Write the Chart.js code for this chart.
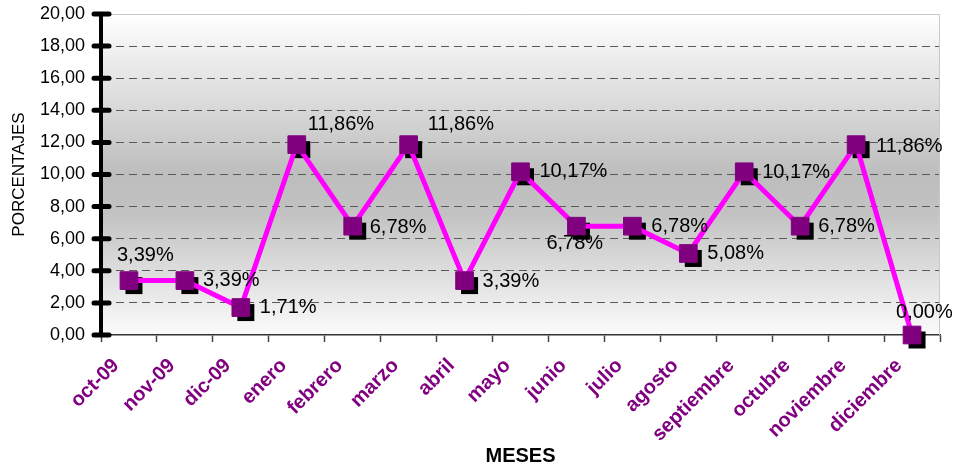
<!DOCTYPE html>
<html>
<head>
<meta charset="utf-8">
<script src="https://cdn.jsdelivr.net/npm/chart.js@4.4.0/dist/chart.umd.min.js"></script>
<style>
html,body{margin:0;padding:0;background:#ffffff;}
#wrap{width:960px;height:470px;position:relative;}
</style>
</head>
<body>
<div id="wrap"><canvas id="c" width="960" height="470"></canvas></div>
<script>
// ---- data ----
const categories = ['oct-09','nov-09','dic-09','enero','febrero','marzo','abril','mayo','junio','julio','agosto','septiembre','octubre','noviembre','diciembre'];
const porcentajes = [3.39, 3.39, 1.71, 11.86, 6.78, 11.86, 3.39, 10.17, 6.78, 6.78, 5.08, 10.17, 6.78, 11.86, 0.00];
const yTickValues = [0, 2, 4, 6, 8, 10, 12, 14, 16, 18, 20];
const xTitle = 'MESES';
const yTitle = 'PORCENTAJES';

// ---- layout of value labels (pixel offsets from the point: left edge dx, middle dy) ----
const labelDx = [-12, 18, 19, 11, 17, 19, 18, 19, -30, 19, 19, 18, 18, 20, -16];
const labelDy = [-25, 0, 0, -20, 1, -20, 1, 0, 17, 0, 0, 1, 0, 2, -23];

const FONT = "'Liberation Sans', Arial, sans-serif";
const fmt = v => v.toFixed(2).replace('.', ',');

const decoPlugin = {
  id: 'deco',
  beforeDraw(chart) {
    const {ctx, chartArea: a} = chart;
    ctx.save();
    const g = ctx.createLinearGradient(0, a.top, 0, a.bottom);
    g.addColorStop(0, '#ffffff');
    g.addColorStop(0.5, '#bdbdbd');
    g.addColorStop(0.62, '#c2c2c2');
    g.addColorStop(1, '#fbfbfb');
    ctx.fillStyle = g;
    ctx.fillRect(a.left, a.top, a.right - a.left, a.bottom - a.top);
    ctx.restore();
  },
  beforeDatasetsDraw(chart) {
    const {ctx, chartArea: a} = chart;
    const ys = chart.scales.y;
    ctx.save();
    // plot frame (top / right)
    ctx.strokeStyle = '#c8c8c8';
    ctx.lineWidth = 1;
    ctx.beginPath();
    ctx.moveTo(a.left, a.top + 0.5);
    ctx.lineTo(a.right - 0.5, a.top + 0.5);
    ctx.lineTo(a.right - 0.5, a.bottom);
    ctx.stroke();
    // crossing tick marks on value axis
    ctx.strokeStyle = '#000000';
    ctx.lineWidth = 5;
    ctx.lineCap = 'round';
    ys.ticks.forEach(t => {
      const y = ys.getPixelForValue(t.value);
      ctx.beginPath();
      ctx.moveTo(ys.right - 7, y);
      ctx.lineTo(ys.right + 8, y);
      ctx.stroke();
    });
    // marker shadows
    const meta = chart.getDatasetMeta(0);
    ctx.fillStyle = '#000000';
    meta.data.forEach(pt => {
      ctx.fillRect(pt.x - 8.5 + 5, pt.y - 8.5 + 5, 17, 17);
    });
    ctx.restore();
  },
  afterDatasetsDraw(chart) {
    const {ctx} = chart;
    const meta = chart.getDatasetMeta(0);
    ctx.save();
    ctx.fillStyle = '#000000';
    ctx.font = '20px ' + FONT;
    ctx.textAlign = 'left';
    ctx.textBaseline = 'middle';
    meta.data.forEach((pt, i) => {
      const v = chart.data.datasets[0].data[i];
      ctx.fillText(fmt(v) + '%', pt.x + labelDx[i], pt.y + labelDy[i]);
    });
    ctx.restore();
  }
};

new Chart(document.getElementById('c'), {
  type: 'line',
  data: {
    labels: categories,
    datasets: [{
      data: porcentajes,
      borderColor: '#ff00ff',
      borderWidth: 5,
      tension: 0,
      pointStyle: 'rect',
      pointRadius: 12.5,
      pointHoverRadius: 12.5,
      pointBackgroundColor: '#800080',
      pointBorderColor: '#800080',
      pointBorderWidth: 1,
      clip: false
    }]
  },
  options: {
    responsive: false,
    animation: false,
    devicePixelRatio: 1,
    layout: { padding: { top: 14, right: 20, left: 0, bottom: 0 } },
    plugins: { legend: { display: false }, tooltip: { enabled: false } },
    scales: {
      x: {
        offset: true,
        afterFit(s) { s.height = 135; },
        border: { display: true, color: '#333333', width: 1.5 },
        grid: { offset: true, drawOnChartArea: false, drawTicks: true, tickLength: 7, tickColor: '#444444', tickWidth: 1.5 },
        ticks: {
          autoSkip: false, minRotation: 45, maxRotation: 45,
          color: '#800080', font: { family: FONT, size: 20, weight: 'bold' },
          padding: 12, labelOffset: -13
        },
        title: { display: true, text: xTitle, color: '#000000', font: { family: FONT, size: 20, weight: 'bold' }, padding: { top: 0, bottom: 2 } }
      },
      y: {
        min: 0, max: 20,
        afterFit(s) { s.width = 101; s.paddingTop = 0; s.paddingBottom = 0; },
        afterBuildTicks(s) { s.ticks = yTickValues.map(v => ({ value: v })); },
        border: { display: true, color: '#000000', width: 4, dash: [8, 5] },
        grid: {
          drawTicks: false,
          color: c => (c.tick && (c.tick.value === 0 || c.tick.value === 20)) ? 'rgba(0,0,0,0)' : '#5a5a5a',
          lineWidth: 1
        },
        ticks: {
          color: '#000000', font: { family: FONT, size: 18 }, padding: 16,
          callback: v => fmt(v)
        },
        title: { display: true, text: yTitle, color: '#000000', font: { family: FONT, size: 17 }, padding: { top: 9, bottom: 0 } }
      }
    }
  },
  plugins: [decoPlugin]
});
</script>
</body>
</html>
